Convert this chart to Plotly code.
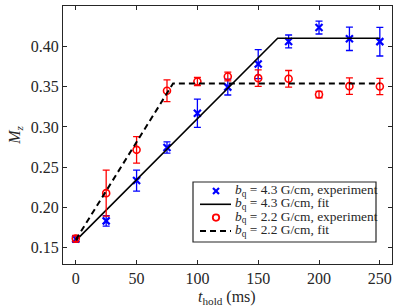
import plotly.graph_objects as go

t_hold = [0, 25, 50, 75, 100, 125, 150, 175, 200, 225, 250]

mz_43 = [0.161, 0.1835, 0.2335, 0.2745, 0.317, 0.3494, 0.378, 0.406, 0.4233, 0.4093, 0.4058]
err_43 = [0.004, 0.0065, 0.013, 0.007, 0.0175, 0.0098, 0.018, 0.008, 0.008, 0.0145, 0.0178]

mz_22 = [0.1615, 0.2179, 0.2716, 0.3448, 0.3563, 0.3625, 0.3605, 0.3597, 0.3402, 0.3506, 0.3502]
err_22 = [0.004, 0.0285, 0.0165, 0.0135, 0.005, 0.0054, 0.0103, 0.0103, 0.004, 0.0103, 0.010]

fit_43_t = [0, 166, 250]
fit_43_m = [0.159, 0.410, 0.410]
fit_22_t = [0, 80, 250]
fit_22_m = [0.160, 0.354, 0.354]

legend_labels = [
    "<i>b</i><sub>q</sub> = 4.3 G/cm, experiment",
    "<i>b</i><sub>q</sub> = 4.3 G/cm, fit",
    "<i>b</i><sub>q</sub> = 2.2 G/cm, experiment",
    "<i>b</i><sub>q</sub> = 2.2 G/cm, fit",
]

FONT = "Liberation Serif"
INK = "#262626"
BLUE = "#0000ff"
RED = "#ff0000"

W, H = 395, 306
ML, MR, MT, MB = 63, 3, 6, 42
PW, PH = W - ML - MR, H - MT - MB


def px(x):
    return (x - ML) / PW


def py(y):
    return (H - MB - y) / PH


fig = go.Figure()
fig.add_trace(go.Scatter(
    x=t_hold, y=mz_43, mode="markers", name=legend_labels[0],
    marker=dict(symbol="x-thin", size=7, line=dict(color=BLUE, width=2.2), color=BLUE),
    error_y=dict(type="data", array=err_43, color=BLUE, thickness=1.3, width=3.5),
))
fig.add_trace(go.Scatter(
    x=fit_43_t, y=fit_43_m, mode="lines", name=legend_labels[1],
    line=dict(color="black", width=1.6),
))
fig.add_trace(go.Scatter(
    x=t_hold, y=mz_22, mode="markers", name=legend_labels[2],
    marker=dict(symbol="circle-open", size=7, line=dict(color=RED, width=1.6), color=RED),
    error_y=dict(type="data", array=err_22, color=RED, thickness=1.3, width=3.5),
))
fig.add_trace(go.Scatter(
    x=fit_22_t, y=fit_22_m, mode="lines", name=legend_labels[3],
    line=dict(color="black", width=2, dash="6px,4px"),
))

# Custom legend (box, swatches and labels) in paper coordinates
shapes = []
box = dict(x0=193, x1=376, y0=182, y1=242)
shapes.append(dict(type="rect", xref="paper", yref="paper", layer="above",
                   x0=px(box["x0"]), x1=px(box["x1"]), y0=py(box["y1"]), y1=py(box["y0"]),
                   line=dict(color=INK, width=1.2), fillcolor="white"))
rows = [191, 204.3, 217.6, 230.9]
mx = 216
# blue x
for dy in (-3, 3):
    shapes.append(dict(type="line", xref="paper", yref="paper", layer="above",
                       x0=px(mx - 3), x1=px(mx + 3), y0=py(rows[0] - dy), y1=py(rows[0] + dy),
                       line=dict(color=BLUE, width=2.2)))
# solid line
shapes.append(dict(type="line", xref="paper", yref="paper", layer="above",
                   x0=px(200), x1=px(231), y0=py(rows[1]), y1=py(rows[1]),
                   line=dict(color="black", width=1.6)))
# red circle
shapes.append(dict(type="circle", xref="paper", yref="paper", layer="above",
                   x0=px(mx - 3.2), x1=px(mx + 3.2), y0=py(rows[2] + 3.2), y1=py(rows[2] - 3.2),
                   line=dict(color=RED, width=1.8)))
# dashed line
shapes.append(dict(type="line", xref="paper", yref="paper", layer="above",
                   x0=px(200), x1=px(231), y0=py(rows[3]), y1=py(rows[3]),
                   line=dict(color="black", width=2, dash="6px,4px")))

legend_text = "<br>".join(
    '<span style="font-size:13.4px">' + lab + "</span>" for lab in legend_labels
)
annotations = [
    dict(xref="paper", yref="paper", x=px(233), y=py(sum(rows) / 4),
         xanchor="left", yanchor="middle", showarrow=False, align="left",
         text=legend_text, font=dict(family=FONT, size=10.25, color=INK)),
    dict(xref="paper", yref="paper", x=px(227), y=py(286),
         xanchor="center", yanchor="top", showarrow=False,
         text="<i>t</i><sub>hold</sub> (ms)", font=dict(family=FONT, size=16, color=INK)),
]

axis_common = dict(
    showline=True, linecolor=INK, linewidth=1.3, mirror="allticks",
    ticks="inside", ticklen=4, tickwidth=1, tickcolor=INK,
    showgrid=False, zeroline=False,
    tickfont=dict(family=FONT, size=16, color=INK),
)

fig.update_layout(
    width=W, height=H,
    margin=dict(l=ML, r=MR, t=MT, b=MB, autoexpand=False),
    paper_bgcolor="white", plot_bgcolor="white",
    font=dict(family=FONT, color=INK),
    xaxis=dict(range=[-10.5, 260], tickvals=[0, 50, 100, 150, 200, 250],
               automargin=False, **axis_common),
    yaxis=dict(range=[0.13, 0.45], tickvals=[0.15, 0.20, 0.25, 0.30, 0.35, 0.40, 0.45],
               ticktext=["0.15", "0.20", "0.25", "0.30", "0.35", "0.40", "0.45"],
               title=dict(text="<i>M</i><sub><i>z</i></sub>", font=dict(family=FONT, size=16), standoff=6),
               automargin=False, **axis_common),
    showlegend=False,
    shapes=shapes,
    annotations=annotations,
)

fig.write_html("out.html", config={"displayModeBar": False},
               post_script="document.body.style.margin='0';document.body.style.padding='0';")
